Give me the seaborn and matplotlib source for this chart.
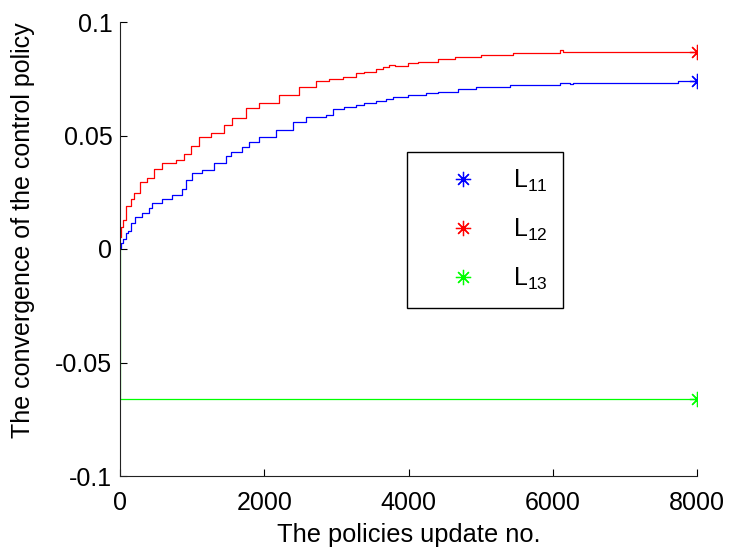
import numpy as np
import matplotlib
matplotlib.use("Agg")
import matplotlib.pyplot as plt
import seaborn as sns

# ------- DATA (step curves) ---------------------------------
l11_x = [0, 20, 42, 78, 110, 148, 207, 309, 401, 447, 587, 725, 864, 919, 1003, 1142,
         1305, 1467, 1537, 1698, 1791, 1929, 2162, 2393, 2579, 2857, 2949, 3111, 3273,
         3389, 3551, 3690, 3783, 3991, 4245, 4407, 4685, 4940, 5403, 6097, 6240, 6280,
         7740, 8000]
l11_y = [0.0003, 0.0025, 0.0043, 0.0070, 0.0081, 0.0114, 0.0142, 0.0160, 0.0179, 0.0204,
         0.0219, 0.0238, 0.0263, 0.0304, 0.0333, 0.0348, 0.0377, 0.0410, 0.0429, 0.0450,
         0.0473, 0.0495, 0.0524, 0.0561, 0.0580, 0.0590, 0.0615, 0.0624, 0.0633, 0.0642,
         0.0651, 0.0659, 0.0668, 0.0677, 0.0686, 0.0693, 0.0704, 0.0712, 0.0721, 0.0730,
         0.0726, 0.0730, 0.0740, 0.0740]

l12_x = [0, 20, 42, 78, 148, 194, 273, 379, 472, 588, 773, 889, 981, 1097, 1259, 1443,
         1559, 1745, 1929, 2208, 2486, 2718, 2903, 3088, 3273, 3389, 3551, 3643, 3736,
         3806, 3991, 4130, 4407, 4639, 5009, 5449, 6097, 6143, 8000]
l12_y = [0.0051, 0.0098, 0.0128, 0.0190, 0.0219, 0.0245, 0.0297, 0.0314, 0.0351, 0.0377,
         0.0392, 0.0419, 0.0455, 0.0495, 0.0510, 0.0546, 0.0575, 0.0620, 0.0643, 0.0680,
         0.0713, 0.0738, 0.0749, 0.0759, 0.0774, 0.0781, 0.0792, 0.0803, 0.0811, 0.0806,
         0.0818, 0.0825, 0.0836, 0.0847, 0.0855, 0.0862, 0.0877, 0.0869, 0.0869]

l13_x = [0, 1, 8000]
l13_y = [0.0, -0.0662, -0.0662]

labels = [r"$\mathregular{L_{11}}$", r"$\mathregular{L_{12}}$", r"$\mathregular{L_{13}}$"]
colors = ["#0000ff", "#ff0000", "#00ff00"]
yticks = [-0.1, -0.05, 0, 0.05, 0.1]
ytick_labels = ["-0.1", "-0.05", "0", "0.05", "0.1"]
xticks = [0, 2000, 4000, 6000, 8000]

# ------- PLOT ---------
sns.set_style("ticks")
plt.rcParams["font.family"] = ["Liberation Sans", "DejaVu Sans"]
plt.rcParams["mathtext.fontset"] = "custom"
plt.rcParams["mathtext.rm"] = "Liberation Sans"
plt.rcParams["text.color"] = "black"
plt.rcParams["axes.labelcolor"] = "black"

fig = plt.figure(figsize=(7.3, 5.48), dpi=100)
ax = fig.add_axes([120 / 730, 1 - 476 / 548, (697 - 120) / 730, (476 - 22) / 548])

series = [(l11_x, l11_y), (l12_x, l12_y), (l13_x, l13_y)]
asterisk = (8, 2, 0)
for (xs, ys), c, lab in zip(series, colors, labels):
    sns.lineplot(x=xs, y=ys, ax=ax, color=c, lw=0.9, estimator=None, sort=False,
                 drawstyle="steps-post")
    ax.plot(xs[-1], ys[-1], linestyle="none", marker=asterisk, ms=11, mew=0.9,
            color=c, label=lab)

ax.set_xlim(0, 8000)
ax.set_ylim(-0.1, 0.1)
ax.set_xticks(xticks)
ax.set_xticklabels([str(t) for t in xticks])
ax.set_yticks(yticks)
ax.set_yticklabels(ytick_labels)
ax.tick_params(direction="in", length=5, width=0.8, colors="black", labelsize=18)
ax.tick_params(axis="x", pad=11)
ax.tick_params(axis="y", pad=5.5)
sns.despine(ax=ax)
for s in ["left", "bottom"]:
    ax.spines[s].set_linewidth(0.8)
    ax.spines[s].set_color("#222222")

ax.set_xlabel("The policies update no.", fontsize=18.3)
ax.set_ylabel("The convergence of the control policy", fontsize=18)
ax.xaxis.set_label_coords(0.5, -0.103)
ax.yaxis.set_label_coords(-0.147, 0.542)

leg = ax.legend(loc="upper left", bbox_to_anchor=(407 / 730, 1 - 152 / 548),
                bbox_transform=fig.transFigure, fontsize=18, frameon=True,
                fancybox=False, framealpha=1, edgecolor="black",
                handlelength=3.24, handletextpad=0.38, borderpad=0.62,
                labelspacing=0.92, borderaxespad=0)
leg.get_frame().set_linewidth(1.0)

fig.savefig("out.png", dpi=100)
